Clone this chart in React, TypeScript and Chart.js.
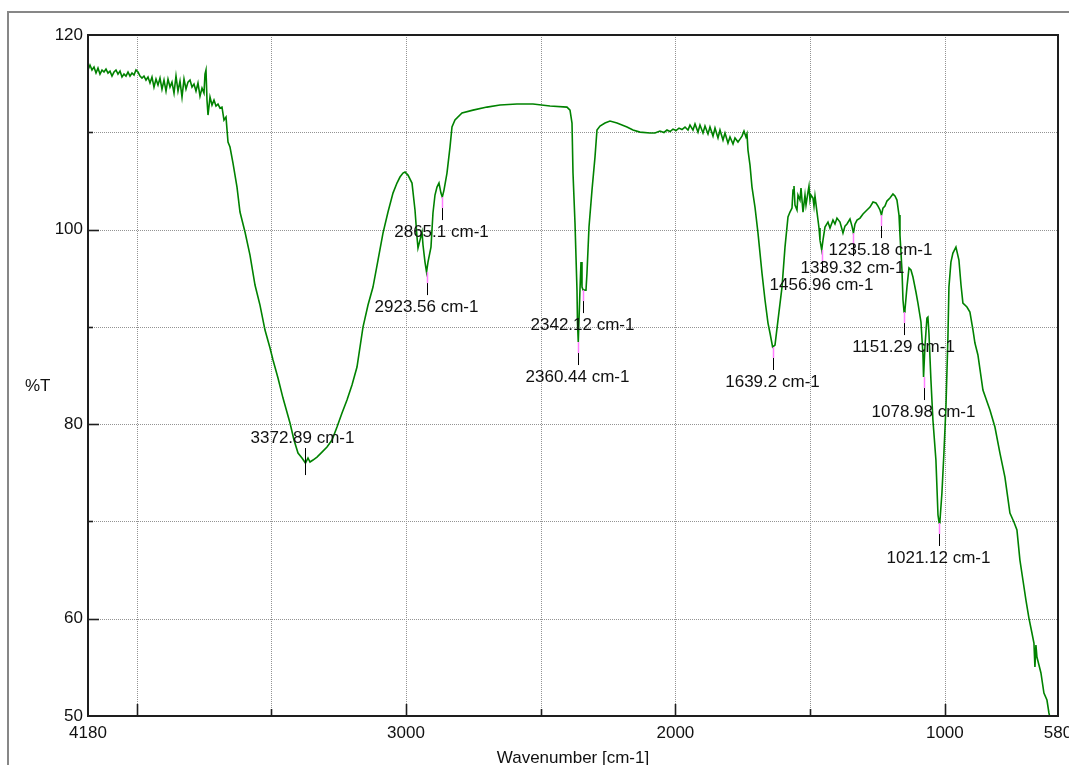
import React, { useEffect, useRef } from "react";
import { Chart, registerables } from "chart.js";

Chart.register(...registerables);

// ---- Spectrum data (wavenumber in cm-1, transmittance in %T) ----
const wavenumbers = [
  4180, 4172.6, 4165.2, 4157.7, 4150.3, 4142.9, 4135.5, 4128.0, 4120.6, 4113.2,
  4105.8, 4098.4, 4090.9, 4083.5, 4076.1, 4068.7, 4061.2, 4053.8, 4046.4, 4039.0,
  4031.5, 4024.1, 4016.7, 4009.3, 4001.9, 3994.4, 3987.0, 3979.6, 3972.2, 3964.7,
  3957.3, 3949.9, 3942.5, 3935.1, 3927.6, 3920.2, 3912.8, 3905.4, 3897.9, 3890.5,
  3883.1, 3875.7, 3868.3, 3860.8, 3853.4, 3846.0, 3838.6, 3831.1, 3823.7, 3816.3,
  3808.9, 3801.4, 3794.0, 3786.6, 3779.2, 3771.8, 3764.3, 3756.9, 3749.5, 3745.8,
  3742.1, 3738.4, 3734.6, 3727.2, 3719.8, 3712.4, 3705.0, 3697.5, 3690.1, 3682.7,
  3675.3, 3667.8, 3660.4, 3653.0, 3641.9, 3627.0, 3615.9, 3597.3, 3578.8, 3560.2,
  3541.7, 3523.1, 3504.5, 3493.4, 3474.9, 3456.3, 3430.3, 3415.5, 3400.6, 3385.8,
  3372.89, 3363.5, 3356.1, 3345.0, 3330.1, 3311.6, 3293.0, 3274.4, 3255.9, 3237.3,
  3218.8, 3200.2, 3181.7, 3159.4, 3140.8, 3122.3, 3103.7, 3085.2, 3066.6, 3048.1,
  3033.3, 3022.1, 3011.0, 3003.5, 2992.4, 2977.5, 2966.4, 2959.0, 2955.3, 2947.8,
  2940.4, 2936.7, 2929.3, 2923.56, 2918.2, 2907.1, 2899.7, 2892.2, 2884.8, 2877.4,
  2870.0, 2865.1, 2858.8, 2847.7, 2836.5, 2829.1, 2818.0, 2792.0, 2751.2, 2699.2,
  2650.9, 2587.9, 2528.5, 2465.4, 2402.3, 2391.1, 2383.7, 2380.0, 2372.6, 2365.2,
  2363.3, 2360.44, 2354.1, 2350.3, 2346.6, 2342.12, 2331.8, 2328.1, 2320.6, 2309.5,
  2298.4, 2291.0, 2279.8, 2261.3, 2242.7, 2216.7, 2179.6, 2157.4, 2131.4, 2094.3,
  2075.7, 2057.2, 2042.3, 2031.2, 2020.0, 2008.9, 1997.7, 1986.6, 1975.5, 1964.3,
  1953.2, 1945.8, 1934.7, 1927.2, 1916.1, 1908.7, 1897.6, 1890.1, 1879.0, 1871.6,
  1860.4, 1853.0, 1841.9, 1834.5, 1823.3, 1815.9, 1804.8, 1797.3, 1786.2, 1778.8,
  1767.7, 1760.2, 1752.8, 1745.4, 1738.0, 1734.3, 1730.6, 1723.1, 1715.7, 1704.6,
  1693.4, 1678.6, 1667.4, 1656.3, 1648.9, 1639.2, 1630.3, 1619.2, 1604.3, 1593.2,
  1582.1, 1574.7, 1567.2, 1563.5, 1559.8, 1556.1, 1548.7, 1545.0, 1537.6, 1533.8,
  1526.4, 1519.0, 1515.3, 1507.9, 1504.2, 1500.4, 1496.7, 1489.3, 1485.6, 1481.9,
  1474.5, 1467.0, 1463.3, 1456.96, 1452.2, 1444.8, 1433.7, 1426.2, 1415.1, 1407.7,
  1400.3, 1389.1, 1378.0, 1370.6, 1363.2, 1352.0, 1344.6, 1339.32, 1333.4, 1325.9,
  1314.8, 1303.7, 1288.9, 1277.7, 1266.6, 1255.5, 1248.1, 1240.7, 1235.18, 1229.6,
  1222.2, 1214.8, 1203.7, 1192.5, 1185.1, 1177.7, 1170.1, 1166.5, 1159.1, 1155.3,
  1151.29, 1148.0, 1140.6, 1133.1, 1125.7, 1118.3, 1107.2, 1099.8, 1088.6, 1081.1,
  1078.98, 1073.9, 1066.5, 1062.8, 1059.0, 1051.6, 1044.2, 1033.1, 1025.4, 1021.12,
  1018.2, 1010.8, 1003.4, 995.9, 988.5, 984.8, 977.4, 970.0, 958.8, 947.7,
  940.0, 932.9, 918.0, 906.9, 895.5, 888.3, 877.2, 858.6, 832.6, 814.1,
  795.5, 777.0, 758.4, 743.6, 732.4, 721.3, 710.2, 699.0, 687.9, 676.7,
  669.3, 665.6, 661.9, 658.2, 650.7, 643.3, 632.2, 621.0, 613.6, 606.2,
];

const transmittance = [
  116.40, 116.91, 116.40, 116.70, 116.09, 116.60, 115.98, 116.40, 116.19, 116.50,
  116.09, 116.29, 115.78, 116.19, 116.40, 115.98, 116.29, 115.68, 115.98, 115.78,
  116.19, 115.78, 116.09, 115.88, 116.40, 116.19, 115.78, 115.57, 115.78, 115.37,
  115.68, 115.06, 115.68, 114.65, 115.47, 114.85, 115.57, 114.44, 115.37, 114.24,
  115.47, 114.65, 115.16, 114.03, 115.78, 114.24, 115.27, 113.62, 115.47, 114.44,
  115.16, 115.37, 114.65, 114.96, 114.24, 115.06, 113.72, 114.54, 114.03, 115.98,
  116.40, 113.31, 111.77, 113.62, 112.80, 113.31, 112.70, 112.90, 112.49, 112.59,
  111.26, 111.56, 109.00, 108.48, 106.84, 104.37, 101.80, 99.75, 97.38, 94.30,
  92.24, 89.67, 87.82, 86.59, 84.74, 82.68, 80.11, 78.37, 77.03, 76.52,
  76.00, 76.52, 76.11, 76.31, 76.62, 77.13, 77.65, 78.37, 79.70, 81.14,
  82.48, 84.02, 85.87, 89.98, 92.24, 94.09, 96.87, 99.64, 101.80, 103.75,
  104.78, 105.40, 105.81, 105.91, 105.60, 104.78, 102.01, 99.23, 98.10, 98.92,
  99.75, 98.41, 96.66, 95.63, 96.66, 98.20, 101.70, 103.55, 104.37, 104.78,
  103.75, 103.34, 104.06, 105.81, 108.48, 110.54, 111.26, 111.98, 112.28, 112.59,
  112.80, 112.90, 112.90, 112.70, 112.59, 112.28, 110.95, 105.81, 100.67, 93.78,
  90.39, 88.44, 93.78, 96.66, 94.09, 93.78, 93.78, 95.53, 100.26, 104.06,
  107.45, 110.23, 110.64, 110.95, 111.15, 110.95, 110.54, 110.23, 110.02, 109.92,
  109.92, 110.13, 109.98, 110.23, 110.08, 110.33, 110.18, 110.43, 110.28, 110.54,
  110.23, 110.74, 110.23, 110.85, 110.02, 110.74, 109.92, 110.64, 109.82, 110.54,
  109.61, 110.43, 109.41, 110.23, 109.20, 109.92, 108.89, 109.51, 108.79, 109.41,
  109.00, 109.30, 109.61, 110.13, 109.51, 109.82, 108.17, 106.63, 104.37, 102.31,
  99.64, 95.53, 92.76, 90.39, 89.37, 87.93, 88.13, 90.70, 94.09, 98.20,
  101.29, 101.80, 102.21, 104.06, 104.47, 102.52, 102.01, 103.55, 103.03, 104.27,
  101.80, 103.55, 102.52, 103.86, 104.47, 103.03, 103.55, 103.24, 102.42, 103.45,
  101.80, 100.16, 98.92, 97.90, 98.92, 100.26, 100.77, 100.16, 100.98, 100.57,
  101.18, 100.77, 99.64, 100.36, 100.57, 101.08, 100.36, 99.64, 100.57, 100.98,
  101.18, 101.60, 102.01, 102.31, 102.83, 102.73, 102.42, 102.01, 101.49, 102.21,
  102.42, 102.93, 103.24, 103.65, 103.45, 103.03, 101.49, 99.44, 95.84, 92.76,
  91.52, 91.73, 94.09, 96.04, 95.84, 95.12, 93.58, 92.45, 90.50, 87.11,
  84.84, 87.93, 90.91, 91.01, 89.37, 84.53, 80.42, 76.31, 70.66, 69.84,
  70.04, 72.92, 77.03, 81.76, 88.95, 94.09, 96.66, 97.59, 98.20, 96.87,
  94.30, 92.45, 92.04, 91.52, 89.67, 88.34, 87.11, 83.51, 81.45, 79.70,
  77.03, 74.56, 70.86, 69.94, 69.12, 66.03, 63.98, 61.92, 60.07, 58.53,
  57.50, 55.04, 57.30, 56.06, 55.24, 54.42, 52.36, 51.64, 50.31, 49.38,
];

// ---- Peak annotations ----
const peakWavenumbers = [3372.89, 2923.56, 2865.1, 2360.44, 2342.12, 1639.2, 1456.96, 1339.32, 1235.18, 1151.29, 1078.98, 1021.12];
const peakLabels = [
  "3372.89 cm-1", "2923.56 cm-1", "2865.1 cm-1", "2360.44 cm-1", "2342.12 cm-1", "1639.2 cm-1",
  "1456.96 cm-1", "1339.32 cm-1", "1235.18 cm-1", "1151.29 cm-1", "1078.98 cm-1", "1021.12 cm-1",
];
const peakLabelAbove = [true, false, false, false, false, false, false, false, false, false, false, false];

// ---- Axes ----
const xMin = 580;
const xMax = 4180;
const yMin = 50;
const yMax = 120;
const xLabelTicks = [4180, 3000, 2000, 1000, 580];
const xMajorTicks = [4000, 3000, 2000, 1000];
const xMinorTicks = [3500, 2500, 1500];
const xGridValues = [4000, 3500, 3000, 2500, 2000, 1500, 1000];
const yLabelTicks = [120, 100, 80, 60, 50];
const yMajorTicks = [100, 80, 60];
const yMinorTicks = [110, 90, 70];
const yGridValues = [60, 70, 80, 90, 100, 110];
const xTitle = "Wavenumber [cm-1]";
const yTitle = "%T";

const FONT = '"Liberation Sans", Arial, sans-serif';
const CANVAS_W = 1090;
const CANVAS_H = 765;

const decorPlugin = {
  id: "ftirDecor",
  beforeDatasetsDraw(chart: any) {
    const { ctx, chartArea: a, scales } = chart;
    const x = scales.x;
    const y = scales.y;
    ctx.save();
    ctx.strokeStyle = "#939393";
    ctx.lineWidth = 1;
    ctx.setLineDash([1, 1]);
    for (const v of xGridValues) {
      const px = Math.round(x.getPixelForValue(v)) + 0.5;
      ctx.beginPath();
      ctx.moveTo(px, a.top);
      ctx.lineTo(px, a.bottom);
      ctx.stroke();
    }
    for (const v of yGridValues) {
      const py = Math.round(y.getPixelForValue(v)) + 0.5;
      ctx.beginPath();
      ctx.moveTo(a.left, py);
      ctx.lineTo(a.right, py);
      ctx.stroke();
    }
    ctx.restore();
  },
  afterDatasetsDraw(chart: any) {
    const { ctx, chartArea: a, scales } = chart;
    const x = scales.x;
    const y = scales.y;
    ctx.save();
    ctx.setLineDash([]);

    // outer frame
    ctx.strokeStyle = "#878787";
    ctx.lineWidth = 2;
    ctx.beginPath();
    ctx.moveTo(8, CANVAS_H + 5);
    ctx.lineTo(8, 12);
    ctx.lineTo(CANVAS_W + 5, 12);
    ctx.stroke();

    // plot border
    ctx.strokeStyle = "#1e1e1e";
    ctx.lineWidth = 2;
    ctx.strokeRect(a.left, a.top, a.right - a.left, a.bottom - a.top);

    // tick marks (inside)
    ctx.lineWidth = 1.6;
    const xt = (v: number, len: number) => {
      const px = Math.round(x.getPixelForValue(v)) + 0.5;
      ctx.beginPath();
      ctx.moveTo(px, a.bottom);
      ctx.lineTo(px, a.bottom - len);
      ctx.stroke();
    };
    xMajorTicks.forEach((v) => xt(v, 12));
    xMinorTicks.forEach((v) => xt(v, 7));
    const yt = (v: number, len: number) => {
      const py = Math.round(y.getPixelForValue(v)) + 0.5;
      ctx.beginPath();
      ctx.moveTo(a.left, py);
      ctx.lineTo(a.left + len, py);
      ctx.stroke();
    };
    yMajorTicks.forEach((v) => yt(v, 11));
    yMinorTicks.forEach((v) => yt(v, 5));

    // peak markers and labels
    ctx.font = `17px ${FONT}`;
    ctx.textAlign = "center";
    ctx.textBaseline = "middle";
    peakWavenumbers.forEach((w, i) => {
      const idx = wavenumbers.indexOf(w);
      const t = transmittance[idx];
      const px = Math.round(x.getPixelForValue(w)) + 0.5;
      const py = y.getPixelForValue(t);
      if (peakLabelAbove[i]) {
        ctx.strokeStyle = "#000";
        ctx.lineWidth = 1;
        ctx.beginPath();
        ctx.moveTo(px, py - 15);
        ctx.lineTo(px, py + 12);
        ctx.stroke();
        ctx.fillStyle = "#111";
        ctx.fillText(peakLabels[i], px - 3, py - 25);
      } else {
        ctx.strokeStyle = "#ff7cff";
        ctx.lineWidth = 1.5;
        ctx.beginPath();
        ctx.moveTo(px, py);
        ctx.lineTo(px, py + 11);
        ctx.stroke();
        ctx.strokeStyle = "#000";
        ctx.lineWidth = 1;
        ctx.beginPath();
        ctx.moveTo(px, py + 11);
        ctx.lineTo(px, py + 23);
        ctx.stroke();
        ctx.fillStyle = "#111";
        ctx.fillText(peakLabels[i], px - 1, py + 35);
      }
    });

    // axis titles
    ctx.fillStyle = "#111";
    ctx.textBaseline = "alphabetic";
    ctx.textAlign = "center";
    ctx.fillText(xTitle, (a.left + a.right) / 2, 763);
    ctx.textAlign = "left";
    ctx.fillText(yTitle, 25, 391);
    ctx.restore();
  },
};

export default function App() {
  const ref = useRef<HTMLCanvasElement>(null);
  useEffect(() => {
    document.body.style.overflow = "hidden";
    Chart.defaults.font.family = FONT;
    const points = wavenumbers.map((w, i) => ({ x: w, y: transmittance[i] }));
    const chart = new Chart(ref.current as HTMLCanvasElement, {
      type: "line",
      data: {
        datasets: [
          {
            data: points,
            borderColor: "#008200",
            borderWidth: 1.6,
            pointRadius: 0,
            tension: 0,
            fill: false,
          },
        ],
      },
      options: {
        animation: false,
        responsive: false,
        events: [],
        layout: { padding: { left: 0, top: 35, right: CANVAS_W - 1058, bottom: 0 } },
        plugins: { legend: { display: false }, tooltip: { enabled: false }, title: { display: false } },
        scales: {
          x: {
            type: "linear",
            reverse: true,
            min: xMin,
            max: xMax,
            afterBuildTicks: (s: any) => {
              s.ticks = xLabelTicks.map((v) => ({ value: v }));
            },
            afterFit: (s: any) => {
              s.height = 49;
            },
            grid: { display: false, drawTicks: false },
            border: { display: false },
            ticks: {
              autoSkip: false,
              maxRotation: 0,
              minRotation: 0,
              padding: 7,
              color: "#111",
              font: { family: FONT, size: 17 },
              callback: (v: any) => String(v),
            },
          },
          y: {
            type: "linear",
            min: yMin,
            max: yMax,
            afterBuildTicks: (s: any) => {
              s.ticks = yLabelTicks.map((v) => ({ value: v }));
            },
            afterFit: (s: any) => {
              s.width = 88;
            },
            grid: { display: false, drawTicks: false },
            border: { display: false },
            ticks: {
              autoSkip: false,
              padding: 5,
              color: "#111",
              font: { family: FONT, size: 17 },
              callback: (v: any) => String(v),
            },
          },
        },
      },
      plugins: [decorPlugin],
    });
    return () => chart.destroy();
  }, []);
  return (
    <canvas
      ref={ref}
      width={CANVAS_W}
      height={CANVAS_H}
      style={{ position: "fixed", left: 0, top: 0, width: CANVAS_W, height: CANVAS_H, display: "block" }}
    />
  );
}
